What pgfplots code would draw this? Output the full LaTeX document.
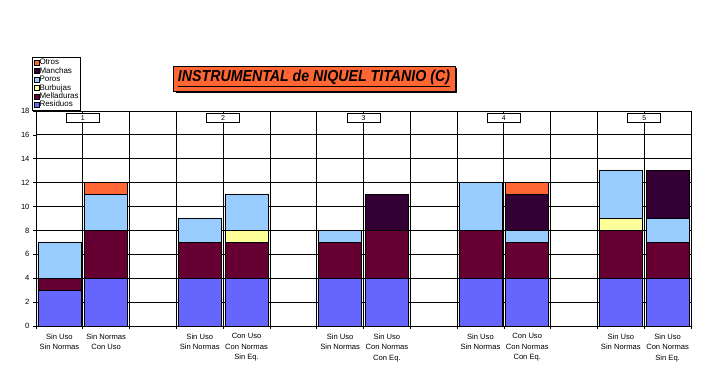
\documentclass[border=0pt]{standalone}
\usepackage{pgfplots}
\pgfplotsset{compat=1.18}
\usepackage{fontspec}
\setmainfont{Liberation Sans}
\definecolor{residuos}{HTML}{6666FF}
\definecolor{melladuras}{HTML}{660033}
\definecolor{burbujas}{HTML}{FFFF99}
\definecolor{poros}{HTML}{99CCFF}
\definecolor{manchas}{HTML}{330033}
\definecolor{otros}{HTML}{FF6633}
\newcommand{\ph}{\phantom{Sin Eq.}}
\begin{document}
\begin{tikzpicture}
\path[use as bounding box] (0,0) rectangle (705pt,370pt);
\begin{axis}[
  at={(36pt,44pt)}, anchor=south west, scale only axis,
  width=655pt, height=215pt,
  xmin=-0.5, xmax=13.5, ymin=0, ymax=18,
  ybar stacked, bar width=0.92,
  ytick={0,2,...,18},
  xtick={0,1,3,4,6,7,9,10,12,13},
  xticklabels={{Sin Uso\\Sin Normas\\\ph},{Sin Normas\\Con Uso\\\ph},
               {Sin Uso\\Sin Normas\\\ph},{Con Uso\\Con Normas\\Sin Eq.},
               {Sin Uso\\Sin Normas\\\ph},{Sin Uso\\Con Normas\\Con Eq.},
               {Sin Uso\\Sin Normas\\\ph},{Con Uso\\Con Normas\\Con Eq.},
               {Sin Uso\\Sin Normas\\\ph},{Sin Uso\\Con Normas\\Sin Eq.}},
  xticklabel style={align=center, anchor=north, font=\fontsize{7.6}{10.5}\selectfont, yshift=-1pt},
  yticklabel style={font=\fontsize{7.6}{8}\selectfont},
  /pgf/number format/assume math mode=true,
  major x tick style={draw=none},
  minor xtick={-0.5,0.5,...,13.5},
  xminorgrids, ymajorgrids,
  grid style={black, line width=0.8pt},
  minor grid style={black, line width=0.8pt},
  tick align=outside, xtick pos=bottom, ytick pos=left,
  major tick length=3pt, minor tick length=3pt,
  tick style={black, line width=0.6pt},
  axis line style={black, line width=0.8pt},
  every axis plot/.append style={draw=black, line width=0.6pt},
  reverse legend,
  legend cell align=left,
  legend style={at={(-0.0061,1.2512)}, anchor=north west,
    font=\fontsize{8}{8}\selectfont, draw=black, line width=0.8pt,
    inner sep=1.2pt, row sep=0pt,
    nodes={inner sep=0.5pt, text height=5.8pt, text depth=1.6pt},
    /tikz/every even column/.append style={column sep=2pt}},
  legend image code/.code={\draw[#1, line width=0.4pt] (0pt,-2.5pt) rectangle (5pt,2.5pt);},
]
\addplot[fill=residuos] coordinates {(0,3) (1,4) (3,4) (4,4) (6,4) (7,4) (9,4) (10,4) (12,4) (13,4)};
\addlegendentry{Residuos}
\addplot[fill=melladuras] coordinates {(0,1) (1,4) (3,3) (4,3) (6,3) (7,4) (9,4) (10,3) (12,4) (13,3)};
\addlegendentry{Melladuras}
\addplot[fill=burbujas] coordinates {(0,0) (1,0) (3,0) (4,1) (6,0) (7,0) (9,0) (10,0) (12,1) (13,0)};
\addlegendentry{Burbujas}
\addplot[fill=poros] coordinates {(0,3) (1,3) (3,2) (4,3) (6,1) (7,0) (9,4) (10,1) (12,4) (13,2)};
\addlegendentry{Poros}
\addplot[fill=manchas] coordinates {(0,0) (1,0) (3,0) (4,0) (6,0) (7,3) (9,0) (10,3) (12,0) (13,4)};
\addlegendentry{Manchas}
\addplot[fill=otros] coordinates {(0,0) (1,1) (3,0) (4,0) (6,0) (7,0) (9,0) (10,1) (12,0) (13,0)};
\addlegendentry{Otros}
\foreach \g/\x in {1/0.5,2/3.5,3/6.5,4/9.5,5/12.5}{
  \edef\tmp{\noexpand\node[draw=black, fill=white, line width=0.6pt, minimum width=33pt, minimum height=9pt, inner sep=0pt, font=\noexpand\fontsize{7}{7}\noexpand\selectfont] at (axis cs:\x,17.42) {\g};}
  \tmp
}
\end{axis}
\fill[black] (175.5pt,276.5pt) rectangle (457pt,301.5pt);
\draw[fill=otros, line width=0.8pt] (173pt,279pt) rectangle (455pt,304pt);
\node at (314pt,291.5pt) {\resizebox{272pt}{11.5pt}{\bfseries\itshape\underline{INSTRUMENTAL de NIQUEL TITANIO (C)}}};
\end{tikzpicture}
\end{document}
